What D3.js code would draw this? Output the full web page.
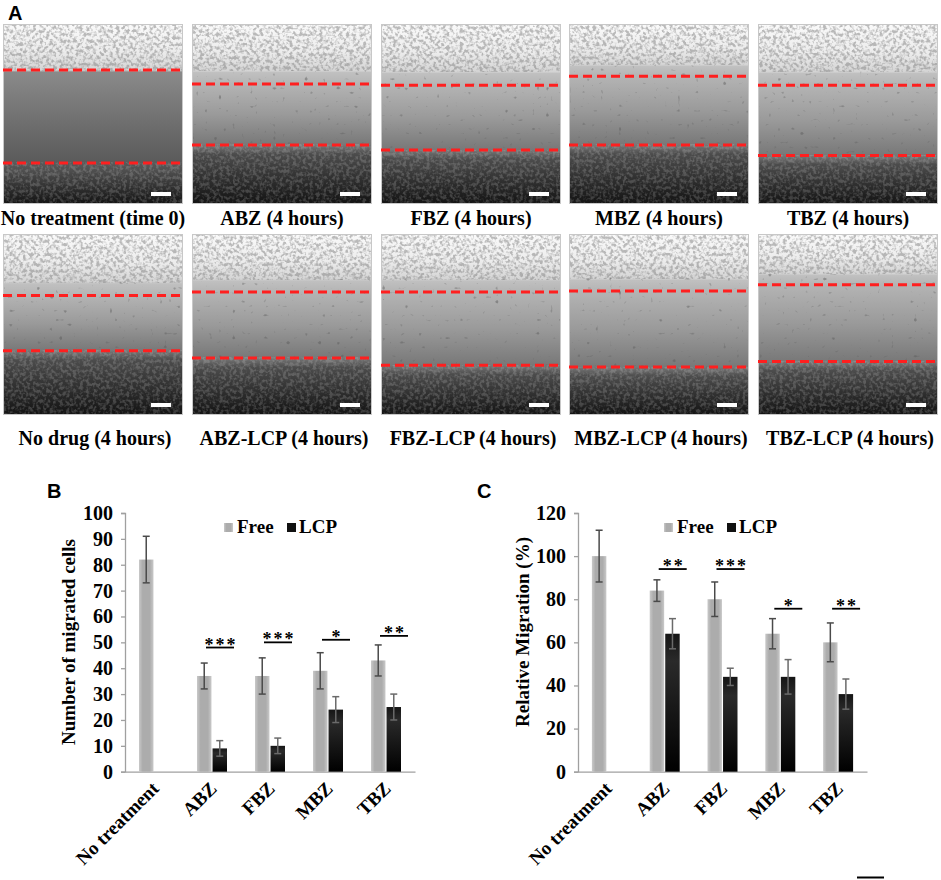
<!DOCTYPE html>
<html>
<head>
<meta charset="utf-8">
<script src="https://cdn.jsdelivr.net/npm/d3@7"></script>
<style>
  html, body { margin: 0; padding: 0; background: #fff; }
  svg { display: block; }
  text { font-family: "Liberation Serif", "Times New Roman", serif; font-weight: bold; fill: #000; }
  .panel { font-family: "Liberation Sans", Arial, sans-serif; font-weight: bold; }
</style>
</head>
<body>
<svg id="fig" width="941" height="880"></svg>
<script>
// ---------- DATA ----------
// Panel A: image captions and wound edges (fraction of image height)
const captionsTop = ["No treatment (time 0)", "ABZ (4 hours)", "FBZ (4 hours)", "MBZ (4 hours)", "TBZ (4 hours)"];
const captionsBottom = ["No drug (4 hours)", "ABZ-LCP (4 hours)", "FBZ-LCP (4 hours)", "MBZ-LCP (4 hours)", "TBZ-LCP (4 hours)"];
const edgesTop = [[0.256, 0.772], [0.333, 0.672], [0.34, 0.70], [0.29, 0.672], [0.34, 0.73]];
const edgesBottom = [[0.34, 0.645], [0.32, 0.685], [0.32, 0.725], [0.315, 0.735], [0.28, 0.705]];

// Panels B and C
const categories = ["No treatment", "ABZ", "FBZ", "MBZ", "TBZ"];
const seriesNames = ["Free", "LCP"];

const migratedFree = [82, 37, 37, 39, 43];
const migratedFreeErr = [9, 5, 7, 7, 6];
const migratedLCP = [null, 9, 10, 24, 25];
const migratedLCPErr = [null, 3, 3, 5, 5];
const migratedSig = [null, "***", "***", "*", "**"];
const migratedSigLevel = [null, 48, 50, 51, 52.5];
const migratedTicks = [0, 10, 20, 30, 40, 50, 60, 70, 80, 90, 100];

const relFree = [100, 84, 80, 64, 60];
const relFreeErr = [12, 5, 8, 7, 9];
const relLCP = [null, 64, 44, 44, 36];
const relLCPErr = [null, 7, 4, 8, 7];
const relSig = [null, "**", "***", "*", "**"];
const relSigLevel = [null, 94, 94, 75.6, 75.6];
const relTicks = [0, 20, 40, 60, 80, 100, 120];

// ---------- DRAW ----------
const svg = d3.select("#fig");
svg.append("rect").attr("width", 941).attr("height", 880).attr("fill", "#fff");
const defs = svg.append("defs");

// cell texture filters
const f = defs.append("filter").attr("id", "cells").attr("x", 0).attr("y", 0).attr("width", 1).attr("height", 1);
f.append("feTurbulence").attr("type", "fractalNoise").attr("baseFrequency", "0.3").attr("numOctaves", 2).attr("seed", 7).attr("result", "n");
f.append("feColorMatrix").attr("in", "n").attr("type", "matrix")
  .attr("values", "0 0 0 0 0.25  0 0 0 0 0.25  0 0 0 0 0.25  -4 0 0 0 2.3");
const fb = defs.append("filter").attr("id", "cellsDark").attr("x", 0).attr("y", 0).attr("width", 1).attr("height", 1);
fb.append("feTurbulence").attr("type", "fractalNoise").attr("baseFrequency", "0.3").attr("numOctaves", 2).attr("seed", 3).attr("result", "n");
fb.append("feColorMatrix").attr("in", "n").attr("type", "matrix")
  .attr("values", "0 0 0 0 0.7  0 0 0 0 0.7  0 0 0 0 0.7  4 0 0 0 -1.7");
const f2 = defs.append("filter").attr("id", "specks").attr("x", 0).attr("y", 0).attr("width", 1).attr("height", 1);
f2.append("feTurbulence").attr("type", "fractalNoise").attr("baseFrequency", "0.22").attr("numOctaves", 1).attr("seed", 11).attr("result", "n");
f2.append("feColorMatrix").attr("in", "n").attr("type", "matrix")
  .attr("values", "0 0 0 0 0.1  0 0 0 0 0.1  0 0 0 0 0.1  -9 0 0 0 2.8");

// Panel A
svg.append("text").attr("class", "panel").attr("x", 8).attr("y", 20).attr("font-size", 20).text("A");

const imgX = [3, 192, 381, 569, 758];
const imgW = 180;
const rows = [
  { y: 24, h: 180, caps: captionsTop, edges: edgesTop, capY: 225 },
  { y: 234, h: 181, caps: captionsBottom, edges: edgesBottom, capY: 445 }
];

rows.forEach((row, ri) => {
  row.caps.forEach((cap, i) => {
    const x = imgX[i], y = row.y, h = row.h;
    const [e1, e2] = row.edges[i];
    const gid = `g${ri}_${i}`;
    const initial = ri === 0 && i === 0;
    const front = initial ? e1 : e1 * 0.78;
    const gr = defs.append("linearGradient").attr("id", gid).attr("x1", 0).attr("y1", 0).attr("x2", 0).attr("y2", 1);
    const stops = [
      [0, "#fafafa"], [front * 0.6, "#ececec"], [front, "#d4d4d4"],
      [front + 0.01, initial ? "#909090" : "#c0c0c0"],
      [e1, initial ? "#8a8a8a" : "#b4b4b4"],
      [(e1 + e2) / 2, initial ? "#727272" : "#9a9a9a"],
      [e2, initial ? "#5a5a5a" : "#787878"],
      [e2 + 0.05, "#4c4c4c"], [1, "#131313"]
    ];
    stops.forEach(s => gr.append("stop").attr("offset", s[0]).attr("stop-color", s[1]));
    const g = svg.append("g");
    g.append("rect").attr("x", x).attr("y", y).attr("width", imgW).attr("height", h).attr("fill", `url(#${gid})`);
    // textured cell regions
    g.append("rect").attr("x", x).attr("y", y).attr("width", imgW).attr("height", h * front)
      .attr("filter", "url(#cells)").attr("opacity", 0.55);
    g.append("rect").attr("x", x).attr("y", y + h * e2).attr("width", imgW).attr("height", h * (1 - e2))
      .attr("filter", "url(#cellsDark)").attr("opacity", 0.2);
    if (!initial) {
      g.append("rect").attr("x", x).attr("y", y + h * front).attr("width", imgW).attr("height", h * (e2 - front))
        .attr("filter", "url(#specks)").attr("opacity", 0.45);
    }
    g.append("rect").attr("x", x + 0.5).attr("y", y + 0.5).attr("width", imgW - 1).attr("height", h - 1)
      .attr("fill", "none").attr("stroke", "#c8c8c8").attr("stroke-width", 1);
    // wound edges
    [e1, e2].forEach(e => {
      g.append("line").attr("x1", x).attr("x2", x + imgW).attr("y1", y + h * e).attr("y2", y + h * e)
        .attr("stroke", "#ff1f1f").attr("stroke-width", 3).attr("stroke-dasharray", "9,5");
    });
    // scale bar
    g.append("rect").attr("x", x + imgW - 32).attr("y", y + h - 12).attr("width", 20).attr("height", 4).attr("fill", "#fff");
    // caption
    svg.append("text").attr("x", x + imgW / 2 + (ri === 1 ? 2 : 0)).attr("y", row.capY).attr("text-anchor", "middle")
      .attr("font-size", 20).text(cap);
  });
});

// gradients for bars
const gFree = defs.append("linearGradient").attr("id", "barFree").attr("x1", 0).attr("x2", 1).attr("y1", 0).attr("y2", 0);
[[0, "#c9c9c9"], [0.25, "#acacac"], [0.75, "#acacac"], [1, "#c9c9c9"]]
  .forEach(s => gFree.append("stop").attr("offset", s[0]).attr("stop-color", s[1]));
const gLCP = defs.append("linearGradient").attr("id", "barLCP").attr("x1", 0).attr("x2", 0).attr("y1", 0).attr("y2", 1);
[[0, "#151515"], [0.2, "#2a2a2a"], [1, "#000"]]
  .forEach(s => gLCP.append("stop").attr("offset", s[0]).attr("stop-color", s[1]));

function drawChart(opt) {
  const g = svg.append("g");
  const x = d3.scaleBand().domain(categories).range([opt.x0, opt.x1]);
  const sub = d3.scaleBand().domain(seriesNames).range([-15, 15]).paddingInner(0.07);
  const y = d3.scaleLinear().domain([0, opt.max]).range([771.7, 513]);

  // axes
  const yAxis = g.append("g").attr("transform", `translate(${opt.x0},0)`)
    .call(d3.axisLeft(y).tickValues(opt.ticks).tickSize(4).tickPadding(8).tickFormat(d3.format("d")));
  yAxis.select(".domain").attr("stroke", "#a0a0a0").attr("stroke-width", 1.3);
  yAxis.selectAll(".tick line").attr("stroke", "#a0a0a0").attr("stroke-width", 1.3);
  yAxis.selectAll(".tick text").attr("font-size", 20).attr("fill", "#000");

  const xAxis = g.append("g").attr("transform", `translate(0,${y(0)})`)
    .call(d3.axisBottom(x).tickSize(0).tickFormat(""));
  xAxis.select(".domain").attr("stroke", "#a0a0a0").attr("stroke-width", 1.3);

  // x labels
  categories.forEach(c => {
    const cx = x(c) + x.bandwidth() / 2;
    g.append("text").attr("transform", `translate(${cx + 6},${y(0) + 18}) rotate(-45)`)
      .attr("text-anchor", "end").attr("font-size", 19).text(c);
  });

  // y title
  g.append("text").attr("transform", `translate(${opt.titleX},${opt.titleY}) rotate(-90)`)
    .attr("text-anchor", "middle").attr("font-size", 19).text(opt.title);

  // bars
  const series = [
    { name: "Free", vals: opt.free, err: opt.freeErr, fill: "url(#barFree)" },
    { name: "LCP", vals: opt.lcp, err: opt.lcpErr, fill: "url(#barLCP)" }
  ];
  series.forEach(s => {
    categories.forEach((c, i) => {
      const v = s.vals[i];
      if (v == null) return;
      const bx = x(c) + x.bandwidth() / 2 + sub(s.name);
      const bw = sub.bandwidth();
      g.append("rect").attr("x", bx).attr("y", y(v)).attr("width", bw).attr("height", y(0) - y(v)).attr("fill", s.fill);
      const cx = bx + bw / 2;
      const lo = y(v - s.err[i]), hi = y(v + s.err[i]);
      const col = s.name === "LCP" ? "#6a6a6a" : "#4a4a4a";
      g.append("line").attr("x1", cx).attr("x2", cx).attr("y1", lo).attr("y2", hi).attr("stroke", col).attr("stroke-width", 1.5);
      [lo, hi].forEach(yy => g.append("line").attr("x1", cx - 3.5).attr("x2", cx + 3.5).attr("y1", yy).attr("y2", yy)
        .attr("stroke", col).attr("stroke-width", 1.5));
    });
  });

  // significance
  categories.forEach((c, i) => {
    if (!opt.sig[i]) return;
    const cx = x(c) + x.bandwidth() / 2;
    const yy = y(opt.sigLevel[i]);
    g.append("line").attr("x1", cx - 6).attr("x2", cx + 22).attr("y1", yy).attr("y2", yy).attr("stroke", "#000").attr("stroke-width", 1.8);
    g.append("text").attr("x", cx + 9).attr("y", yy + 3).attr("text-anchor", "middle").attr("font-size", 18)
      .attr("letter-spacing", 2).text(opt.sig[i]);
  });

  // legend
  const lg = g.append("g");
  lg.append("rect").attr("x", opt.legX).attr("y", 523).attr("width", 9).attr("height", 9).attr("fill", "url(#barFree)");
  lg.append("text").attr("x", opt.legX + 13).attr("y", 533).attr("font-size", 19).text("Free");
  lg.append("rect").attr("x", opt.legX + opt.legGap).attr("y", 523).attr("width", 9).attr("height", 9).attr("fill", "#111");
  lg.append("text").attr("x", opt.legX + opt.legGap + 12).attr("y", 533).attr("font-size", 19).text("LCP");
}

svg.append("text").attr("class", "panel").attr("x", 47).attr("y", 498).attr("font-size", 20).text("B");
svg.append("text").attr("class", "panel").attr("x", 477).attr("y", 498).attr("font-size", 20).text("C");

drawChart({
  x0: 125, x1: 415, max: 100, ticks: migratedTicks,
  free: migratedFree, freeErr: migratedFreeErr, lcp: migratedLCP, lcpErr: migratedLCPErr,
  sig: migratedSig, sigLevel: migratedSigLevel,
  title: "Number of migrated cells", titleX: 75, titleY: 642,
  legX: 224, legGap: 63
});
drawChart({
  x0: 578, x1: 867, max: 120, ticks: relTicks,
  free: relFree, freeErr: relFreeErr, lcp: relLCP, lcpErr: relLCPErr,
  sig: relSig, sigLevel: relSigLevel,
  title: "Relative Migration (%)", titleX: 529, titleY: 632,
  legX: 664, legGap: 63
});

// small bar at bottom right
svg.append("line").attr("x1", 857).attr("x2", 884).attr("y1", 877.5).attr("y2", 877.5).attr("stroke", "#000").attr("stroke-width", 2);
</script>
</body>
</html>
